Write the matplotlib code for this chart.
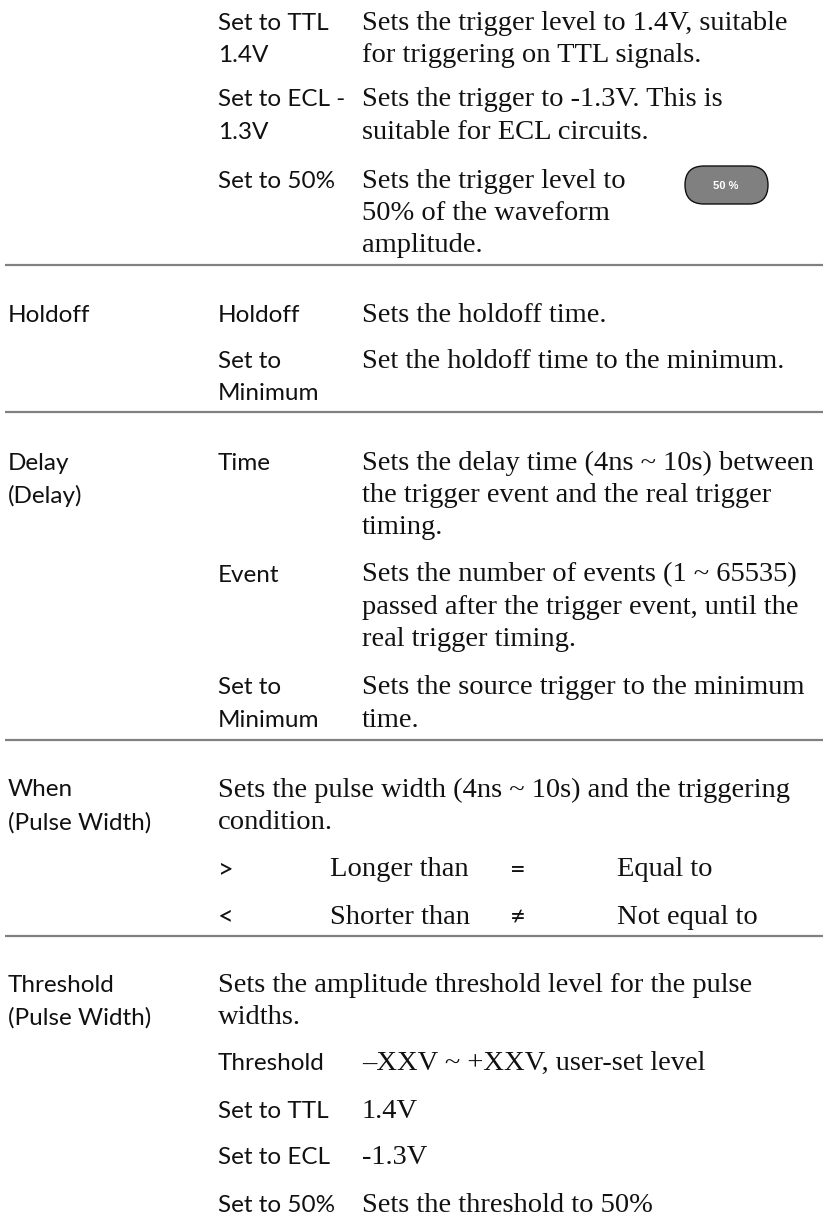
import matplotlib.pyplot as plt
from matplotlib.patches import FancyBboxPatch

SANS = ["Lato", "DejaVu Sans"]
SERIF = ["Liberation Serif", "DejaVu Serif"]

# section labels (left column)
section_labels = [["Holdoff"], ["Delay", "(Delay)"], ["When", "(Pulse Width)"],
                  ["Threshold", "(Pulse Width)"]]
section_y = [315, 463, 790, 985]

# option / description pairs
option_keys = [
    ["Set to TTL", "1.4V"],
    ["Set to ECL -", "1.3V"],
    ["Set to 50%"],
    ["Holdoff"],
    ["Set to", "Minimum"],
    ["Time"],
    ["Event"],
    ["Set to", "Minimum"],
]
option_desc = [
    ["Sets the trigger level to 1.4V, suitable", "for triggering on TTL signals."],
    ["Sets the trigger to -1.3V. This is", "suitable for ECL circuits."],
    ["Sets the trigger level to", "50% of the waveform", "amplitude."],
    ["Sets the holdoff time."],
    ["Set the holdoff time to the minimum."],
    ["Sets the delay time (4ns ~ 10s) between", "the trigger event and the real trigger",
     "timing."],
    ["Sets the number of events (1 ~ 65535)", "passed after the trigger event, until the",
     "real trigger timing."],
    ["Sets the source trigger to the minimum", "time."],
]
option_y = [23, 100, 181, 315, 361, 463, 575, 688]

# pulse width section
when_desc = ["Sets the pulse width (4ns ~ 10s) and the triggering", "condition."]
cond_symbols = [">", "<"]
cond_names = ["Longer than", "Shorter than"]
cond_symbols2 = ["=", "\u2260"]
cond_names2 = ["Equal to", "Not equal to"]
cond_y = [870, 917]

thresh_desc = ["Sets the amplitude threshold level for the pulse", "widths."]
thresh_keys = ["Threshold", "Set to TTL", "Set to ECL", "Set to 50%"]
thresh_vals = ["\u2013XXV ~ +XXV, user-set level", "1.4V", "-1.3V", "Sets the threshold to 50%"]
thresh_y = [1063, 1112, 1158, 1205]

separators = [265, 412, 740, 936]

X1, X2, X3 = 8, 218, 362
PITCH = 32.5
FS_SANS = 17.5
FS_SERIF = 20.5
INK = "#111111"

fig = plt.figure(figsize=(8.23, 12.19), dpi=100)
ax = fig.add_axes([0, 0, 1, 1])
ax.set_xlim(0, 823)
ax.set_ylim(1219, 0)
ax.axis("off")


def lines(x, y, texts, fam, fs):
    for i, t in enumerate(texts):
        ax.text(x, y + i * PITCH, t, family=fam, fontsize=fs, color=INK,
                ha="left", va="center")


for lab, y in zip(section_labels, section_y):
    lines(X1, y, lab, SANS, FS_SANS)

for k, d, y in zip(option_keys, option_desc, option_y):
    lines(X2, y, k, SANS, FS_SANS)
    lines(X3, y, d, SERIF, FS_SERIF)

lines(X2, 790, when_desc, SERIF, FS_SERIF)
for s, n, s2, n2, y in zip(cond_symbols, cond_names, cond_symbols2, cond_names2, cond_y):
    lines(X2, y, [s], SANS, FS_SANS + 2)
    lines(330, y, [n], SERIF, FS_SERIF)
    lines(510, y, [s2], SANS, FS_SANS + 2)
    lines(617, y, [n2], SERIF, FS_SERIF)

lines(X2, 985, thresh_desc, SERIF, FS_SERIF)
for k, v, y in zip(thresh_keys, thresh_vals, thresh_y):
    lines(X2, y, [k], SANS, FS_SANS)
    lines(X3, y, [v], SERIF, FS_SERIF)

for y in separators:
    ax.plot([5, 823], [y, y], color="#808080", lw=1.6, solid_capstyle="butt")

# "50 %" soft key
btn = FancyBboxPatch((685, 166), 83, 38,
                     boxstyle="round,pad=0,rounding_size=19",
                     fc="#808080", ec="#111111", lw=1.0)
ax.add_patch(btn)
ax.text(726, 186, "50 %", family=["Liberation Sans", "DejaVu Sans"], fontsize=8,
        fontweight="bold", color="white", ha="center", va="center")

fig.savefig("out.png", dpi=100)
